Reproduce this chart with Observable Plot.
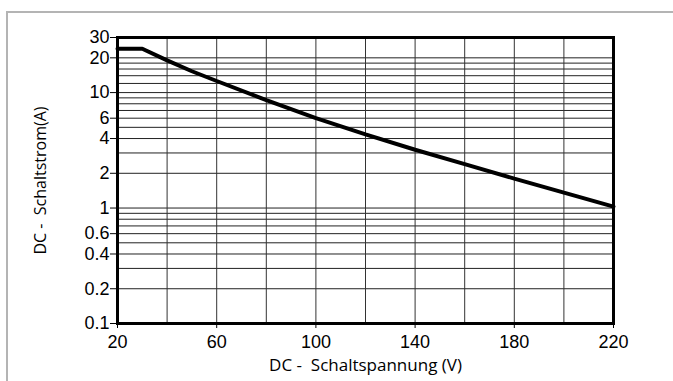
<!DOCTYPE html>
<html>
<head>
<meta charset="utf-8">
<script src="https://cdn.jsdelivr.net/npm/d3@7"></script>
<script src="https://cdn.jsdelivr.net/npm/@observablehq/plot@0.6"></script>
<style>
  html, body { margin: 0; padding: 0; background: #fff; width: 673px; height: 381px; overflow: hidden; }
  #frame { position: absolute; left: 6px; top: 11px; width: 700px; height: 400px; border-left: 2px solid #b4b4b4; border-top: 2px solid #b4b4b4; }
  #chart { position: absolute; left: 0; top: 0; }
  #chart svg { background: transparent; }
</style>
</head>
<body>
<div id="frame"></div>
<div id="chart"></div>
<script>
// Data
const voltage = [20, 30, 40, 50, 60, 80, 100, 120, 140, 160, 180, 200, 220];
const current = [24, 24, 19, 15.3, 12.6, 8.6, 6.0, 4.35, 3.2, 2.4, 1.8, 1.36, 1.03];

const xTicks = [20, 60, 100, 140, 180, 220];
const yTicks = [30, 20, 10, 6, 4, 2, 1, 0.6, 0.4, 0.2, 0.1];
const xGrid = [40, 60, 80, 100, 120, 140, 160, 180, 200];
const yGrid = [20, 18, 16, 14, 12, 10, 9, 8, 7, 6, 5, 4, 3, 2, 1, 0.9, 0.8, 0.7, 0.6, 0.5, 0.4, 0.3, 0.2];

const xLabel = "DC -  Schaltspannung (V)";
const yLabel = "DC -  Schaltstrom(A)";

const data = voltage.map((v, i) => ({v, a: current[i]}));
const titleFont = "'Open Sans', sans-serif";

const chart = Plot.plot({
  width: 673,
  height: 381,
  marginLeft: 117,
  marginRight: 60,
  marginTop: 37,
  marginBottom: 58,
  style: {fontFamily: "'Liberation Sans', Arial, sans-serif", fontSize: "18px", color: "#000", background: "transparent"},
  x: {domain: [20, 220], axis: null},
  y: {type: "log", domain: [0.1, 30], axis: null},
  marks: [
    Plot.ruleY(yGrid, {stroke: "#222", strokeWidth: 1}),
    Plot.ruleX(xGrid, {stroke: "#333", strokeWidth: 1}),
    Plot.axisX({ticks: xTicks, tickFormat: () => "", tickSize: 5, label: null}),
    Plot.axisY({ticks: yTicks, tickFormat: () => "", tickSize: 7, label: null}),
    Plot.text(xTicks, {x: d => d, frameAnchor: "bottom", dy: 24, text: d => String(d), fontSize: 18, fill: "#000"}),
    Plot.text(yTicks, {y: d => d, frameAnchor: "left", dx: -8, textAnchor: "end", text: d => String(d), fontSize: 18, fill: "#000"}),
    Plot.text([xLabel], {frameAnchor: "bottom", dy: 47, text: d => d, fontSize: 17, fontFamily: titleFont, fill: "#000"}),
    Plot.text([yLabel], {frameAnchor: "left", dx: -77, rotate: -90, textAnchor: "middle", text: d => d, fontSize: 16, fontFamily: titleFont, fill: "#000"}),
    Plot.line(data, {x: "v", y: "a", stroke: "#000", strokeWidth: 4, strokeLinejoin: "miter"}),
    Plot.frame({stroke: "#000", strokeWidth: 3})
  ]
});
document.getElementById("chart").appendChild(chart);
</script>
</body>
</html>
